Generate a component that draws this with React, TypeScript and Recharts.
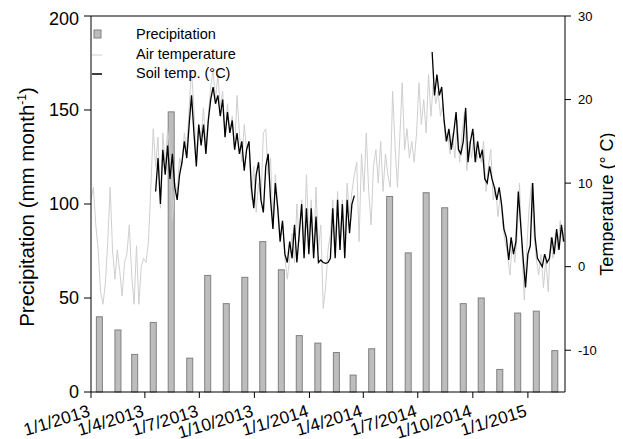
import { ComposedChart, Bar, Line, XAxis, YAxis, ReferenceLine } from 'recharts';

// monthly precipitation, Jan 2013 .. Feb 2015 (mm)
const precipMonths = [
  '2013-01', '2013-02', '2013-03', '2013-04', '2013-05', '2013-06',
  '2013-07', '2013-08', '2013-09', '2013-10', '2013-11', '2013-12',
  '2014-01', '2014-02', '2014-03', '2014-04', '2014-05', '2014-06',
  '2014-07', '2014-08', '2014-09', '2014-10', '2014-11', '2014-12',
  '2015-01', '2015-02',
];
const precipValues = [
  40, 33, 20, 37, 149, 18, 62, 47, 61, 80, 65, 30,
  26, 21, 9, 23, 104, 74, 106, 98, 47, 50, 12, 42,
  43, 22,
];

// air temperature, sampled every 4 days from 1/1/2013
const airStart = 0;
const airTemp2013 = [
  8, 9.5, 5, 2, -3, -4.5, -2, 3, 9.5, 2, -1.5, 2, -0.5, -3.5, 0.5, 1.5,
  5, -1, -4.5, 2.5, -4.5, 0, 1, 0.5, 3, 9.5, 16.5, 12, 15.5, 7, 16, 12,
  16.5, 14, 5.5, 10, 9, 13, 12, 16, 14, 19, 23.5, 19, 13, 17, 15.5, 19,
  14, 18, 21.5, 23.5, 20, 23, 19, 21, 15.5, 19.5, 16, 18, 14, 20.5, 16, 12.5,
  17, 14, 15, 8, 12, 6.5, 10, 8, 16, 16.5, 11, 13, 4.5, 11, 7.5, 3.5,
  5.5, 1, -1.5, 1, 4, 0.5, 7.5, 3, 8, 2, 11, 3,
];
const airTemp2014 = [
  8, 1, 9.5, 2, 5, -5, -2.5, 2, 4, 8, 1.5, 9, 2, 8, 3, 10,
  6, 9, 11, 12.5, 3, 13.5, 9, 16, 9, 5, 12, 14, 10, 15, 9, 13.5,
  11, 9.5, 21, 14.5, 9.5, 15.5, 22, 14, 16.5, 13, 15, 12.5, 16, 22, 17, 20,
  16, 23, 18, 22, 19.5, 21, 18, 19.5, 15, 16, 13.5, 16, 13, 17.5, 12.5, 16,
  18.5, 11.5, 15, 13, 16, 12.5, 14, 12.5, 15, 9, 12, 14, 8, 9.5, 6, 8.5,
  5, 3, 1.5, -1, 3, 0.5, 3.5, 10, 2, -4, 2,
];
const airTemp2015 = [7, 10, 4, 1, -1, 1.5, -2.5, 1, -3, 3.5, 1, 4, 2, 5.5, 3, 5];

// soil temperature, sampled every 4 days, two logging periods
const soilStartA = 108;
const soilTempA = [
  9, 13, 7.5, 14, 11, 14.5, 10.5, 13.5, 9.5, 8, 11, 12.5, 15, 13, 17, 20.5,
  16, 12, 17, 14.5, 17, 13.5, 17.5, 20, 21.5, 19.5, 20.5, 18, 20, 15.5, 18.5, 16,
  17.5, 14, 16, 13.5, 15, 11.5, 14, 15, 9.5, 7, 11, 12.5, 8, 6.5, 12, 13.5,
  8, 4.5, 10, 7, 3, 5.5, 1.5, 0.5, 3, 1, 5, 0.5, 4, 7.5, 1, 7,
  1.5, 7, 1, 6, 0.5, 0.8, 0.5, 0.4, 0.5, 1, 7, 1, 8, 2, 7.5, 1,
  8, 4, 7.5, 8.5,
];
const soilStartB = 570;
const soilTempB = [
  25.7, 20.5, 23, 20.5, 21.5, 17.5, 15, 16.5, 14, 16, 18.5, 14, 13.5, 15, 19, 12.5,
  15, 16.5, 12.5, 15, 13, 14, 10.5, 10, 12, 10.5, 9.5, 8, 9.5, 7.5, 4.5, 3.5,
  0.8, 3.5, 1.5, 3, 9, 5, 1, -2.5, 1.5, 2.5, 10, 3.5, 1, 0.5, 0, 1.5,
  0.5, 1, 3.5, 1.5, 4.5, 2, 5, 3,
];

const tickDays = [0, 90, 181, 273, 365, 455, 546, 638, 730];
const tickLabels = ['1/1/2013', '1/4/2013', '1/7/2013', '1/10/2013', '1/1/2014', '1/4/2014', '1/7/2014', '1/10/2014', '1/1/2015'];

const DAY = 86400000;
const origin = Date.UTC(2013, 0, 1);

const barData = precipMonths.map((m, i) => {
  const [y, mo] = m.split('-').map(Number);
  return { day: (Date.UTC(y, mo - 1, 15) - origin) / DAY, precip: precipValues[i] };
});

const toSeries = (start: number, vals: number[], key: string) =>
  vals.map((v, i) => ({ day: start + i * 4, [key]: v }));

const airData = toSeries(airStart, [...airTemp2013, ...airTemp2014, ...airTemp2015], 'air');
const soilDataA = toSeries(soilStartA, soilTempA, 'soil');
const soilDataB = toSeries(soilStartB, soilTempB, 'soil');

const FONT = '"Liberation Sans", Arial, sans-serif';

const XTick = (props: any) => {
  const { x, y, payload } = props;
  const label = tickLabels[tickDays.indexOf(payload.value)];
  const ax = x;
  const ay = y + 16;
  return (
    <text x={ax} y={ay} transform={`rotate(-17 ${ax} ${ay})`} textAnchor="end" fontSize={17.5} fontFamily={FONT} fill="#000">
      {label}
    </text>
  );
};

const LeftLabel = (props: any) => {
  const vb = props.viewBox || { y: 8, height: 376 };
  const cx = 26;
  const cy = vb.y + vb.height / 2 + 3;
  return (
    <text x={cx} y={cy} transform={`rotate(-90 ${cx} ${cy})`} textAnchor="middle" fontSize={20.5} fontFamily={FONT} fill="#000">
      Precipitation (mm month<tspan dy={-8} fontSize={12}>-1</tspan><tspan dy={8}>)</tspan>
    </text>
  );
};

const RightLabel = (props: any) => {
  const vb = props.viewBox || { y: 8, height: 376 };
  const cx = 605;
  const cy = vb.y + vb.height / 2;
  return (
    <text x={cx} y={cy} transform={`rotate(-90 ${cx} ${cy})`} textAnchor="middle" fontSize={18} fontFamily={FONT} fill="#000">
      Temperature (° C)
    </text>
  );
};

const BarShape = (props: any) => {
  const { x, y, width, height } = props;
  if (!height || height <= 0) return null;
  const cx = x + width / 2;
  return <rect x={cx - 3} y={y} width={6} height={height} fill="#bdbdbd" stroke="#808080" strokeWidth={1} />;
};

const legendRows = [
  { name: 'Precipitation', icon: <rect x={2} y={5} width={7} height={8} fill="#bdbdbd" stroke="#808080" /> },
  { name: 'Air temperature', icon: <line x1={0} x2={10} y1={10} y2={10} stroke="#cfcfcf" /> },
  { name: 'Soil temp. (°C)', icon: <line x1={0} x2={10} y1={10} y2={10} stroke="#000" strokeWidth={1.5} /> },
];

export default function App() {
  return (
    <div style={{ position: 'relative', width: 615, height: 431 }}>
      <ComposedChart width={615} height={431} data={barData} margin={{ top: 8, right: 0, bottom: 7, left: 0 }}>
        <XAxis
          dataKey="day"
          type="number"
          domain={[0, 792]}
          allowDataOverflow
          ticks={tickDays}
          tick={<XTick />}
          interval={0}
          height={40}
          tickSize={6}
          axisLine={{ stroke: '#000' }}
          tickLine={{ stroke: '#000' }}
        />
        <YAxis
          yAxisId="left"
          domain={[0, 200]}
          ticks={[0, 50, 100, 150, 200]}
          width={83}
          tickSize={7}
          tickMargin={5}
          tick={{ fontSize: 18, fontFamily: FONT, fill: '#000' }}
          axisLine={{ stroke: '#000' }}
          tickLine={{ stroke: '#000' }}
          label={<LeftLabel />}
        />
        <YAxis
          yAxisId="right"
          orientation="right"
          domain={[-15, 30]}
          ticks={[-10, 0, 10, 20, 30]}
          width={58}
          tickSize={6}
          tickMargin={7}
          tick={{ fontSize: 13, fontFamily: FONT, fill: '#000' }}
          axisLine={{ stroke: '#000' }}
          tickLine={{ stroke: '#000' }}
          label={<RightLabel />}
        />
        <ReferenceLine yAxisId="left" y={200} stroke="#000" />
        <Bar yAxisId="left" dataKey="precip" name="Precipitation" shape={<BarShape />} isAnimationActive={false} />
        <Line yAxisId="right" data={airData} dataKey="air" name="Air temperature" type="linear" stroke="#cfcfcf" strokeWidth={1} dot={false} isAnimationActive={false} />
        <Line yAxisId="right" data={soilDataA} dataKey="soil" name="Soil temp. (°C)" type="linear" stroke="#000" strokeWidth={1.3} dot={false} isAnimationActive={false} />
        <Line yAxisId="right" data={soilDataB} dataKey="soil" name="Soil temp. B" type="linear" stroke="#000" strokeWidth={1.3} dot={false} isAnimationActive={false} />
      </ComposedChart>
      <div style={{ position: 'absolute', top: 17, left: 84, fontFamily: FONT, fontSize: 14.5, lineHeight: '19.5px', color: '#000' }}>
        {legendRows.map((r) => (
          <div key={r.name} style={{ display: 'flex', alignItems: 'center', height: 19.5 }}>
            <svg width={12} height={19} style={{ marginRight: 32 }}>{r.icon}</svg>
            <span>{r.name}</span>
          </div>
        ))}
      </div>
    </div>
  );
}
